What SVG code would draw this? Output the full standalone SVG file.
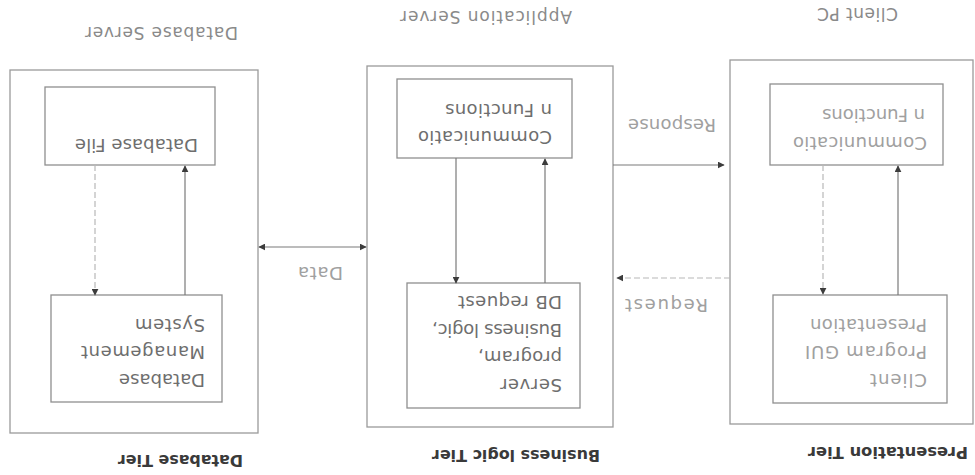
<svg xmlns="http://www.w3.org/2000/svg" width="975" height="475" viewBox="0 0 975 475">
  <style>
    .tier { fill: none; stroke: #9a9a9a; stroke-width: 1.3; }
    .box { fill: #ffffff; stroke: #8f8f8f; stroke-width: 1.3; }
    .solid { fill: none; stroke: #7a7a7a; stroke-width: 1.2; }
    .dot { fill: none; stroke: #b8b8b8; stroke-width: 1.2; stroke-dasharray: 6 3; }
    .t { font-family: "DejaVu Sans", Verdana, sans-serif; font-size: 18px; fill: #6e6e6e; }
    .lt { fill: #a0a0a0; }
    .head { font-family: "DejaVu Sans", Verdana, sans-serif; font-size: 17px; fill: #8a8a8a; }
    .tierlbl { font-family: "DejaVu Sans", Verdana, sans-serif; font-size: 15px; font-weight: bold; fill: #3a3a3a; }
  </style>
  <defs>
    <marker id="arr" viewBox="0 0 10 10" refX="9" refY="5" markerWidth="7" markerHeight="7" orient="auto-start-reverse" markerUnits="userSpaceOnUse">
      <path d="M0,0 L10,5 L0,10 z" fill="#3c3c3c"/>
    </marker>
  </defs>
  <rect width="975" height="475" fill="#ffffff"/>

  <!-- Database tier (left) -->
  <g id="database-tier">
    <rect class="tier" x="10" y="70" width="248" height="363"/>
    <text class="head lt" x="238" y="27" transform="rotate(180 238 27)" textLength="153" lengthAdjust="spacing">Database Server</text>
    <text class="tierlbl" x="243" y="454.5" transform="rotate(180 243 454.5)" textLength="125" lengthAdjust="spacingAndGlyphs">Database Tier</text>
  </g>
  <g id="database-file">
    <rect class="box" x="45" y="87" width="170" height="78"/>
    <text class="t" x="198" y="138.5" transform="rotate(180 198 138.5)" textLength="123" lengthAdjust="spacing">Database File</text>
  </g>
  <g id="dbms">
    <rect class="box" x="51" y="295" width="171" height="107"/>
    <text class="t" x="205" y="373.5" transform="rotate(180 205 373.5)" textLength="86" lengthAdjust="spacing">Database</text>
    <text class="t" x="205" y="345.5" transform="rotate(180 205 345.5)" textLength="124" lengthAdjust="spacing">Management</text>
    <text class="t" x="205" y="318.5" transform="rotate(180 205 318.5)" textLength="70" lengthAdjust="spacing">System</text>
  </g>

  <!-- Business logic tier (middle) -->
  <g id="business-tier">
    <rect class="tier" x="367" y="66" width="246" height="361"/>
    <text class="head" x="572" y="11" transform="rotate(180 572 11)" textLength="172" lengthAdjust="spacing">Application Server</text>
    <text class="tierlbl" x="600" y="449.5" transform="rotate(180 600 449.5)" textLength="168" lengthAdjust="spacingAndGlyphs">Business logic Tier</text>
  </g>
  <g id="app-communication">
    <rect class="box" x="397" y="79" width="175" height="79"/>
    <text class="t" x="552" y="130.5" transform="rotate(180 552 130.5)" textLength="134" lengthAdjust="spacing">Communicatio</text>
    <text class="t" x="552" y="103.5" transform="rotate(180 552 103.5)" textLength="107" lengthAdjust="spacing">n Functions</text>
  </g>
  <g id="server-program">
    <rect class="box" x="407" y="283" width="173" height="125"/>
    <text class="t" x="562" y="378.5" transform="rotate(180 562 378.5)" textLength="62" lengthAdjust="spacing">Server</text>
    <text class="t" x="562" y="350.5" transform="rotate(180 562 350.5)" textLength="84" lengthAdjust="spacing">program,</text>
    <text class="t" x="562" y="323.5" transform="rotate(180 562 323.5)" textLength="130" lengthAdjust="spacing">Business logic,</text>
    <text class="t" x="562" y="295.5" transform="rotate(180 562 295.5)" textLength="104" lengthAdjust="spacing">DB request</text>
  </g>

  <!-- Presentation tier (right) -->
  <g id="presentation-tier">
    <rect class="tier" x="730" y="60" width="243" height="364"/>
    <text class="head lt" x="898" y="8" transform="rotate(180 898 8)" textLength="81" lengthAdjust="spacing">Client PC</text>
    <text class="tierlbl" x="968" y="446.5" transform="rotate(180 968 446.5)" textLength="160" lengthAdjust="spacingAndGlyphs">Presentation Tier</text>
  </g>
  <g id="client-communication">
    <rect class="box" x="770" y="84" width="173" height="81"/>
    <text class="t lt" x="927" y="136.5" transform="rotate(180 927 136.5)" textLength="134" lengthAdjust="spacing">Communicatio</text>
    <text class="t lt" x="925" y="108.5" transform="rotate(180 925 108.5)" textLength="103" lengthAdjust="spacing">n Functions</text>
  </g>
  <g id="client-gui">
    <rect class="box" x="773" y="295" width="174" height="108"/>
    <text class="t lt" x="927" y="373.5" transform="rotate(180 927 373.5)" textLength="57" lengthAdjust="spacing">Client</text>
    <text class="t lt" x="927" y="345.5" transform="rotate(180 927 345.5)" textLength="122" lengthAdjust="spacing">Program GUI</text>
    <text class="t lt" x="927" y="318.5" transform="rotate(180 927 318.5)" textLength="117" lengthAdjust="spacing">Presentation</text>
  </g>

  <!-- Connectors -->
  <g id="connectors">
    <line class="dot" x1="95" y1="165" x2="95" y2="295" marker-end="url(#arr)"/>
    <line class="solid" x1="185" y1="295" x2="185" y2="166" marker-end="url(#arr)"/>
    <line class="solid" x1="259" y1="247" x2="366" y2="247" marker-start="url(#arr)" marker-end="url(#arr)"/>
    <line class="solid" x1="456" y1="158" x2="456" y2="283" marker-end="url(#arr)"/>
    <line class="solid" x1="545" y1="283" x2="545" y2="159" marker-end="url(#arr)"/>
    <line class="solid" x1="613" y1="165" x2="724" y2="165" marker-end="url(#arr)"/>
    <line class="dot" x1="730" y1="278" x2="617" y2="278" marker-end="url(#arr)"/>
    <line class="dot" x1="823" y1="165" x2="823" y2="294" marker-end="url(#arr)"/>
    <line class="solid" x1="898" y1="295" x2="898" y2="166" marker-end="url(#arr)"/>
    <text class="t lt" x="343" y="266.5" transform="rotate(180 343 266.5)" textLength="45" lengthAdjust="spacing">Data</text>
    <text class="t lt" x="716" y="118.5" transform="rotate(180 716 118.5)" textLength="88" lengthAdjust="spacing">Response</text>
    <text class="t lt" x="708" y="298.5" transform="rotate(180 708 298.5)" textLength="83" lengthAdjust="spacing">Request</text>
  </g>
</svg>
